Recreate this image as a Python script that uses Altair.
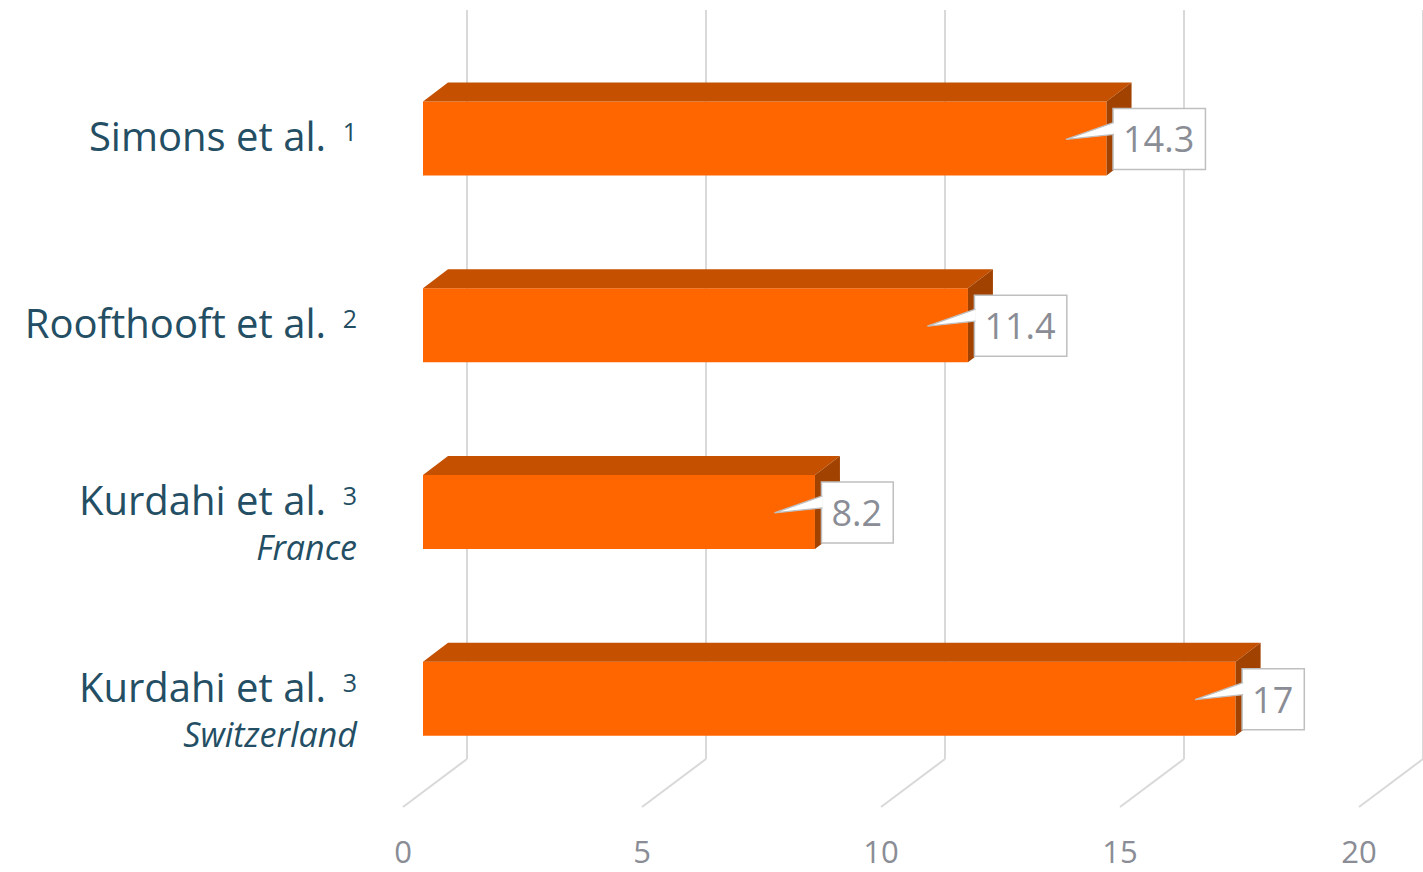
import altair as alt
import pandas as pd

# ---- data ----
studies = ["Simons et al.", "Roofthooft et al.", "Kurdahi et al.", "Kurdahi et al."]
refs = ["1", "2", "3", "3"]
countries = ["", "", "France", "Switzerland"]
values = [14.3, 11.4, 8.2, 17]
value_labels = ["14.3", "11.4", "8.2", "17"]
x_ticks = [0, 5, 10, 15, 20]

# ---- layout / style constants ----
W, H = 956, 747
X_MAX = 20
PX_X = W / X_MAX            # px per x unit
PX_Y = H / 4                # px per row
BAR_HALF = 37 / PX_Y        # half bar thickness in row units
DEPTH_X = 25 / PX_X         # bar depth (x) in data units
DEPTH_Y = 19 / PX_Y         # bar depth (y) in row units
WALL_DX = 64
FONT = "Open Sans"
LABEL_COLOR = "#234E63"
VAL_COLOR = "#8A8D95"
GRID = "#D9D9D9"

X_SCALE = alt.Scale(domain=[0, X_MAX], nice=False, zero=False)
Y_SCALE = alt.Scale(domain=[-0.5, 3.5], reverse=True, nice=False, zero=False)


def X(f):
    return alt.X(f, type="quantitative", scale=X_SCALE, axis=None)


def Y(f):
    return alt.Y(f, type="quantitative", scale=Y_SCALE, axis=None, stack=None)


# ---- tables built from the arrays ----
bars = []
top_pts, side_pts = [], []
for i, (s, r, c, v, lab) in enumerate(zip(studies, refs, countries, values, value_labels)):
    digits = sum(ch.isdigit() for ch in lab)
    dots = lab.count(".")
    box_w = digits * 20.6 + dots * 9.6 + 21
    bars.append(dict(row=i, x0=0, value=v, label=lab, study=s, ref=r, country=c,
                     has_sub=1 if c else 0,
                     y_top=i - BAR_HALF, y_bot=i + BAR_HALF,
                     box_end=v + box_w / PX_X))
    t = i - BAR_HALF
    top_pts += [
        dict(bar=i, x=0, y=t, y2=t),
        dict(bar=i, x=DEPTH_X, y=t - DEPTH_Y, y2=t),
        dict(bar=i, x=v, y=t - DEPTH_Y, y2=t),
        dict(bar=i, x=v + DEPTH_X, y=t - DEPTH_Y, y2=t - DEPTH_Y),
    ]
    side_pts += [
        dict(bar=i, x=v, y=t, y2=i + BAR_HALF),
        dict(bar=i, x=v + DEPTH_X, y=t - DEPTH_Y, y2=i + BAR_HALF - DEPTH_Y),
    ]

df = pd.DataFrame(bars)
df_top = pd.DataFrame(top_pts)
df_side = pd.DataFrame(side_pts)
df_ticks = pd.DataFrame({"tick": x_ticks, "lo": -0.5, "hi": 3.5, "txt": [str(t) for t in x_ticks]})

# ---- gridlines (back wall + floor diagonals) ----
grid_back = alt.Chart(df_ticks).mark_rule(
    color=GRID, strokeWidth=2, xOffset=WALL_DX, yOffset=-50, y2Offset=-48
).encode(x=X("tick"), y=Y("lo"), y2="hi:Q")

grid_floor = alt.Chart(df_ticks).mark_rule(
    color=GRID, strokeWidth=2, x2Offset=WALL_DX, y2Offset=-48
).encode(x=X("tick"), x2="tick:Q", y=Y("hi"), y2="hi:Q")

tick_text = alt.Chart(df_ticks).mark_text(
    font=FONT, fontSize=31, color=VAL_COLOR, align="center", baseline="alphabetic", dy=56
).encode(x=X("tick"), y=Y("hi"), text="txt:N")

# ---- 3D bars ----
front = alt.Chart(df).mark_rect(
    color="#FF6600", xOffset=20, x2Offset=20, yOffset=-15, y2Offset=-15
).encode(x=X("x0"), x2="value:Q", y=Y("y_top"), y2="y_bot:Q")

top = alt.Chart(df_top).mark_area(
    orient="vertical", color="#C45000", xOffset=20, yOffset=-15, y2Offset=-15
).encode(x=X("x"), y=Y("y"), y2="y2:Q", detail="bar:N")

side = alt.Chart(df_side).mark_area(
    orient="vertical", color="#A24200", xOffset=20, yOffset=-15, y2Offset=-15
).encode(x=X("x"), y=Y("y"), y2="y2:Q", detail="bar:N")

# ---- callout labels ----
box = alt.Chart(df).mark_rect(
    fill="white", stroke="#BFBFBF", strokeWidth=1.5,
    xOffset=26.5, x2Offset=26.5, yOffset=-45, y2Offset=16
).encode(x=X("value"), x2="box_end:Q", y=Y("row"), y2="row:Q")

pointer = alt.Chart(df).mark_point(
    shape="M0.02,-0.32L-0.94,0.02L0.02,-0.08",
    size=10000, filled=True, fill="white", stroke="#BFBFBF", strokeWidth=1.5, opacity=1,
    xOffset=26.5, yOffset=-15
).encode(x=X("value"), y=Y("row"))

val_text = alt.Chart(df).mark_text(
    font=FONT, fontSize=36, color=VAL_COLOR, align="left", baseline="alphabetic", dx=36.5, dy=-1
).encode(x=X("value"), y=Y("row"), text="label:N")

# ---- category labels ----
def main_label(flt, dy):
    base = alt.Chart(df).transform_filter(flt)
    main = base.mark_text(
        font=FONT, fontSize=40, color=LABEL_COLOR, align="right", baseline="alphabetic",
        dx=-77, dy=dy
    ).encode(x=X("x0"), y=Y("row"), text="study:N")
    sup = base.mark_text(
        font=FONT, fontSize=25, color=LABEL_COLOR, align="right", baseline="alphabetic",
        dx=-46, dy=dy - 10
    ).encode(x=X("x0"), y=Y("row"), text="ref:N")
    return main, sup


single_main, single_sup = main_label("datum.has_sub == 0", -2)
two_main, two_sup = main_label("datum.has_sub == 1", -12)

lab_sub = alt.Chart(df).transform_filter("datum.has_sub == 1").mark_text(
    font=FONT, fontSize=34, fontStyle="italic", color=LABEL_COLOR, align="right",
    baseline="alphabetic", dx=-46, dy=33
).encode(x=X("x0"), y=Y("row"), text="country:N")

chart = alt.layer(
    grid_back, grid_floor, tick_text, front, top, side, box, pointer, val_text,
    single_main, single_sup, two_main, two_sup, lab_sub
).properties(
    width=W, height=H, autosize="none",
    padding={"left": 403, "top": 60, "right": 64, "bottom": 65},
    background="white",
).configure_view(stroke=None)

chart.save("out.html", embed_options={"renderer": "svg", "actions": False})
